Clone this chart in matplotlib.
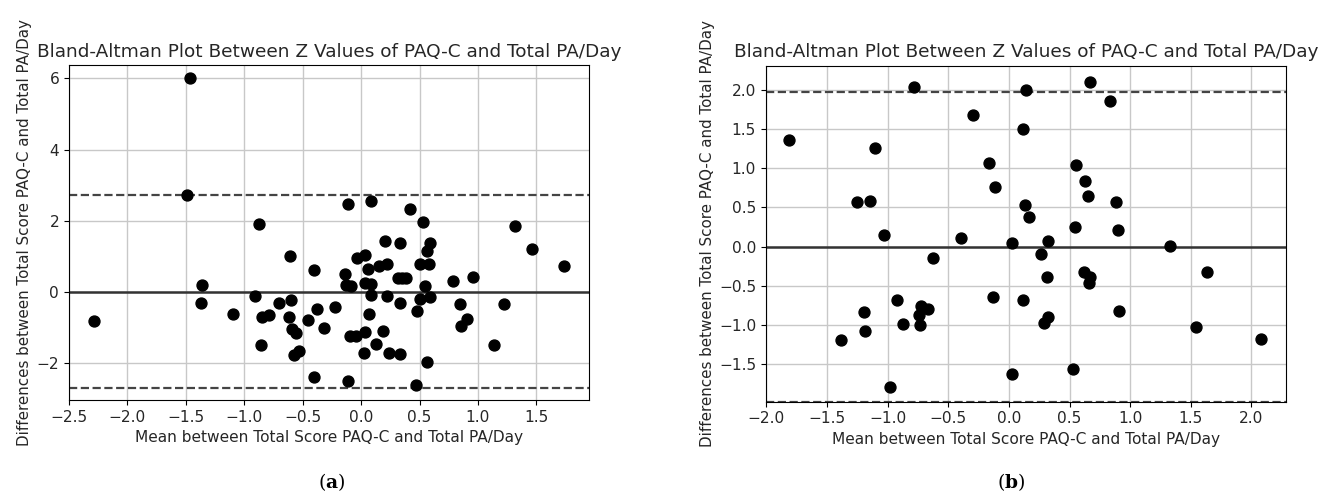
import numpy as np
import matplotlib.pyplot as plt

# (a) mean / difference of z values
mean_a = [-1.461, -1.492, -0.871, -0.109, 0.086, 0.42, 0.528, 1.321, -0.608, -0.402,
          -1.359, -1.37, -2.289, -1.093, -0.908, -0.699, -0.60, -0.848, -0.785, -0.619,
          -0.379, -0.456, -0.314, -0.588, -0.559, -0.856, -0.528, -0.576, -0.402, 0.208,
          0.337, 0.591, 0.568, 1.461, -0.031, 0.037, 0.063, 0.157, 0.225, 0.505,
          0.58, 1.735, -0.14, -0.131, -0.086, 0.034, 0.086, 0.314, 0.351, 0.383,
          0.551, 0.788, 0.959, 0.086, 0.223, 0.337, 0.505, 0.593, 0.482, 0.071,
          -0.223, 0.845, 1.227, 0.908, 0.859, -0.094, -0.043, 0.037, 0.191, 0.128,
          0.023, 0.242, 0.337, 0.562, 1.141, -0.109, 0.47]
diff_a = [6.0, 2.73, 1.91, 2.48, 2.56, 2.34, 1.95, 1.86, 0.99, 0.60,
          0.20, -0.32, -0.84, -0.64, -0.12, -0.32, -0.23, -0.72, -0.645, -0.72,
          -0.50, -0.805, -1.01, -1.04, -1.16, -1.51, -1.67, -1.77, -2.415, 1.42,
          1.38, 1.38, 1.15, 1.20, 0.95, 1.04, 0.635, 0.73, 0.77, 0.78,
          0.78, 0.73, 0.50, 0.20, 0.146, 0.23, 0.22, 0.37, 0.37, 0.37,
          0.165, 0.30, 0.42, -0.10, -0.11, -0.325, -0.22, -0.145, -0.54, -0.635,
          -0.42, -0.36, -0.36, -0.76, -0.975, -1.24, -1.25, -1.15, -1.10, -1.46,
          -1.73, -1.72, -1.765, -1.98, -1.50, -2.51, -2.63]
md_a = 0.0
loa_a = 2.72

# (b)
mean_b = [-1.813, -0.786, -0.294, -1.106, -0.168, -0.116, -1.257, -1.144, -1.031, 0.140,
          0.668, 0.833, 0.113, 0.553, 0.630, 0.652, 0.883, 0.129, 0.168, 0.545,
          0.897, -0.399, -0.630, -0.135, -0.924, -1.194, -0.726, -0.666, -0.745, -0.875,
          -0.734, -1.186, -1.386, -0.979, 0.022, 0.022, 0.319, 1.331, 0.267, 0.621,
          0.668, 0.663, 1.631, 0.311, 0.113, 0.910, 0.319, 0.291, 1.543, 2.082,
          0.528]
diff_b = [1.363, 2.04, 1.678, 1.265, 1.065, 0.766, 0.567, 0.588, 0.153, 1.997,
          2.10, 1.857, 1.503, 1.043, 0.843, 0.652, 0.567, 0.533, 0.383, 0.255,
          0.213, 0.115, -0.149, -0.642, -0.681, -0.838, -0.757, -0.800, -0.868, -0.983,
          -1.004, -1.077, -1.196, -1.792, -1.63, 0.05, 0.073, 0.013, -0.089, -0.323,
          -0.383, -0.46, -0.323, -0.387, -0.681, -0.821, -0.902, -0.979, -1.021, -1.179,
          -1.558]
md_b = 0.0
loa_b = 1.98

TITLE = 'Bland-Altman Plot Between Z Values of PAQ-C and Total PA/Day'
XLAB = 'Mean between Total Score PAQ-C and Total PA/Day'
YLAB = 'Differences between Total Score PAQ-C and Total PA/Day'
TXT = '#262626'

plt.rcParams['mathtext.fontset'] = 'dejavuserif'

fig = plt.figure(figsize=(13.25, 5.01), dpi=100)
ax1 = fig.add_axes([0.052, 0.2016, 0.3925, 0.6687])
ax2 = fig.add_axes([0.578, 0.1982, 0.3925, 0.6707])

def bland_altman(ax, m, d, md, loa):
  ax.scatter(m, d, s=62, color='black', zorder=3)
  ax.axhline(md, color='#333333', lw=1.8, zorder=2)
  ax.axhline(md + loa, color='#444444', lw=1.6, ls='--', zorder=2)
  ax.axhline(md - loa, color='#444444', lw=1.6, ls='--', zorder=2)
  ax.grid(True, color='#c8c8c8', lw=1.0)
  ax.set_axisbelow(True)
  ax.set_title(TITLE, fontsize=13.3, color=TXT, pad=6)
  ax.set_xlabel(XLAB, fontsize=11.1, color=TXT)
  ax.set_ylabel(YLAB, fontsize=10.9, color=TXT, labelpad=3)
  ax.tick_params(labelsize=11.1, labelcolor=TXT)

bland_altman(ax1, mean_a, diff_a, md_a, loa_a)
ax1.set_xlim(-2.5, 1.95)
ax1.set_ylim(-3.05, 6.38)
ax1.set_xticks(np.arange(-2.5, 1.6, 0.5))
ax1.set_yticks([-2, 0, 2, 4, 6])

bland_altman(ax2, mean_b, diff_b, md_b, loa_b)
ax2.set_xlim(-2.005, 2.285)
ax2.set_ylim(-1.98, 2.31)
ax2.set_xticks(np.arange(-2.0, 2.1, 0.5))
ax2.set_yticks(np.arange(-1.5, 2.1, 0.5))

fig.text(0.25, 0.025, r'($\mathbf{a}$)', ha='center', fontsize=13.5, family='DejaVu Serif')
fig.text(0.763, 0.025, r'($\mathbf{b}$)', ha='center', fontsize=13.5, family='DejaVu Serif')

fig.savefig('out.png', dpi=100)
